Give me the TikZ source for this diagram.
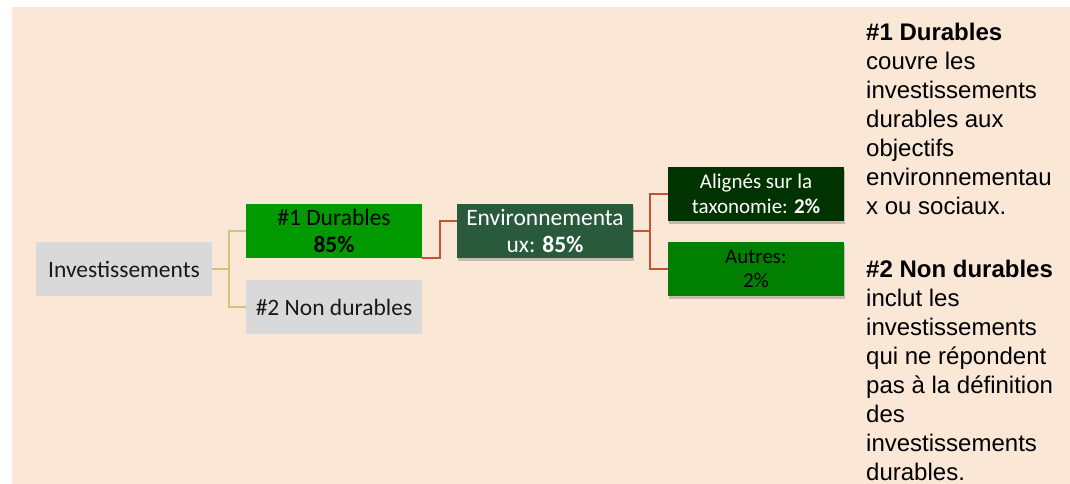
\documentclass[tikz,border=0pt]{standalone}
\usepackage{fontspec}
\setmainfont{Carlito}
\newfontfamily\arialfont{Liberation Sans}
\usetikzlibrary{shadows}
\definecolor{bg}{HTML}{FAE7D6}
\definecolor{boxgray}{HTML}{D9D9D9}
\definecolor{green1}{HTML}{009900}
\definecolor{envgreen}{HTML}{285A3B}
\definecolor{darkgreen}{HTML}{003300}
\definecolor{green2}{HTML}{007F00}
\definecolor{gold}{HTML}{D2C27E}
\definecolor{redline}{HTML}{C8502E}
\tikzset{
  box/.style={minimum width=176pt, minimum height=54pt, inner sep=0pt, align=center,
    font=\fontsize{23.5}{27}\selectfont},
  smallbox/.style={box, font=\fontsize{21}{24.5}\selectfont},
  shad/.style={drop shadow={shadow xshift=1pt, shadow yshift=-3pt, opacity=0.3, fill=black!70}},
  goldline/.style={draw=gold, line width=2pt},
  redconn/.style={draw=redline, line width=2pt},
  sidetext/.style={anchor=base west, inner sep=0pt, align=left,
    font=\arialfont\fontsize{24}{29}\selectfont}
}
\begin{document}
\begin{tikzpicture}[x=1pt,y=-1pt]
\useasboundingbox (0,0) rectangle (1070,484);
\fill[white] (0,0) rectangle (1070,484);
\fill[bg] (12,7) rectangle (1070,484);

\node[box, fill=boxgray, text=black!90] (inv) at (124,269) {Investissements};
\node[box, fill=green1, text=black] (d1) at (334,231) {\#1 Durables\\\textbf{85\%}};
\node[box, fill=boxgray, text=black!90] (d2) at (334,307) {\#2 Non durables};
\node[box, shad, fill=envgreen, text=white] (env) at (545,231) {Environnementa\\ux: \textbf{85\%}};
\node[smallbox, shad, fill=darkgreen, text=white] (ali) at (756,194) {Alignés sur la\\taxonomie: \textbf{2\%}};
\node[smallbox, shad, fill=green2, text=black] (aut) at (756,269) {Autres:\\2\%};

\draw[goldline] (inv.east) -- ++(17,0) |- (d1.west);
\draw[goldline] (inv.east) -- ++(17,0) |- (d2.west);
\draw[redconn] (d1.south east) -- ++(18,0) |- ([yshift=10pt]env.west);
\draw[redconn] (env.east) -- ++(17,0) |- (ali.west);
\draw[redconn] (env.east) -- ++(17,0) |- (aut.west);

\node[sidetext] (p1) at (866,214) {\textbf{\#1 Durables}\\couvre les\\investissements\\durables aux\\objectifs\\environnementau\\x ou sociaux.};
\node[sidetext] (p2) at (866,480) {\textbf{\#2 Non durables}\\inclut les\\investissements\\qui ne répondent\\pas à la définition\\des\\investissements\\durables.};
\end{tikzpicture}
\end{document}
